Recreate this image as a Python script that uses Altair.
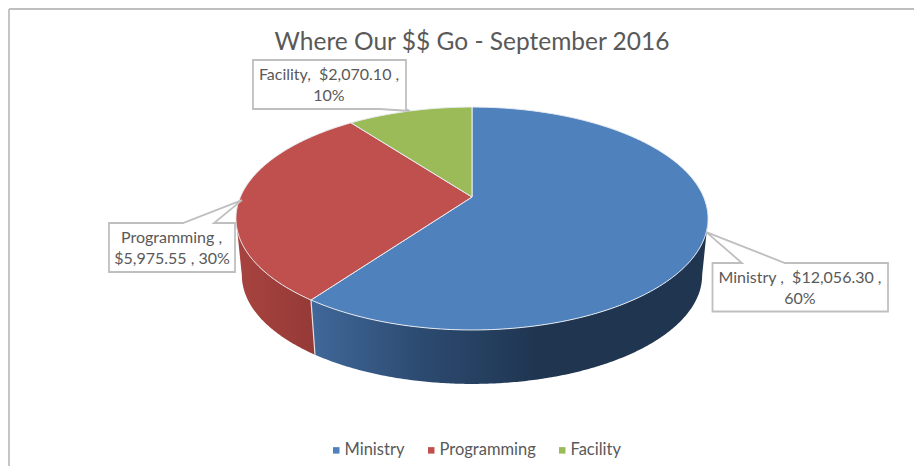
import math
import altair as alt

# ---- chart values ----
categories = ["Ministry", "Programming", "Facility"]
amounts = [12056.30, 5975.55, 2070.10]
percents = [60, 30, 10]
colors = ["#4f81bd", "#c0504d", "#9bbb59"]
title_text = "Where Our $$ Go - September 2016"

# ---- drawing geometry (page pixels) ----
CX, CY = 472, 197
A, B, K = 231.6, 107.3, 0.193     # perspective disc
BOTTOM_SCALE, BOTTOM_SHIFT = 0.975, 57.3
FONT = "Lato"
TEXT = "#595959"
LINE = "#bfbfbf"
NB = "\u00a0"

total = sum(amounts)
edges = [0.0]
for a in amounts:
    edges.append(edges[-1] + a / total * 360)


def top(theta):
    t = math.radians(theta)
    w = 1 + K * math.cos(t)
    return (CX + A * math.sin(t) / w, CY - B * math.cos(t) / w)


def bottom(theta):
    x, y = top(theta)
    return (CX + (x - CX) * BOTTOM_SCALE, CY + (y - CY) * BOTTOM_SCALE + BOTTOM_SHIFT)


def arc(fn, a0, a1):
    n = max(2, int(abs(a1 - a0) * 2))
    return [fn(a0 + (a1 - a0) * i / n) for i in range(n + 1)]


def feature(ring, name):
    ring = [list(p) for p in ring]
    ring.append(ring[0])
    return {"type": "Feature", "properties": {"name": name},
            "geometry": {"type": "Polygon", "coordinates": [ring]}}


def geo(features):
    return alt.InlineData(values={"type": "FeatureCollection", "features": features},
                          format=alt.DataFormat(property="features", type="json"))


proj = dict(type="identity", scale=1, translate=[-8, -8])

# tangent angles of the disc's silhouette
right_tan = 90 + math.degrees(math.asin(K))
left_tan = 270 - math.degrees(math.asin(K))


def side(a0, a1, name):
    return feature(arc(top, a0, a1) + arc(bottom, a1, a0), name)


def grad(stops):
    return {"gradient": "linear", "x1": 0, "x2": 1, "y1": 0, "y2": 0,
            "stops": [{"offset": o, "color": c} for o, c in stops]}


side_blue = alt.Chart(geo([side(right_tan, edges[1], categories[0])])).mark_geoshape(
    fill=grad([(0, "#40689a"), (0.28, "#2c4a70"), (0.58, "#1f3550"), (1, "#1f3550")]),
    strokeWidth=0,
).project(**proj)
side_red = alt.Chart(geo([side(edges[1], left_tan, categories[1])])).mark_geoshape(
    fill=grad([(0, "#a8433f"), (1, "#953a37")]),
    strokeWidth=0,
).project(**proj)
# light seam between the two side faces
seam = alt.Chart(geo([{"type": "Feature", "properties": {"name": "seam"}, "geometry": {
    "type": "LineString", "coordinates": [list(top(edges[1])), list(bottom(edges[1]))]}}])).mark_geoshape(
    filled=False, stroke="#e6e0e0", strokeWidth=1.2).project(**proj)

slices = [feature([(CX, CY)] + arc(top, edges[i], edges[i + 1]), categories[i]) for i in range(3)]
faces = alt.Chart(geo(slices)).mark_geoshape(stroke="#e9edf3", strokeWidth=1).encode(
    color=alt.Color("properties.name:N",
                    scale=alt.Scale(domain=categories, range=colors),
                    sort=categories,
                    legend=alt.Legend(title=None, orient="none", direction="horizontal",
                                      legendX=320, legendY=434, symbolType="square",
                                      symbolSize=42, symbolStrokeWidth=0, labelFont=FONT,
                                      labelFontSize=16.5, labelColor=TEXT, columnPadding=18,
                                      labelOffset=0, padding=0, columns=3))
).project(**proj)

# ---- callouts ----
mid = [(edges[i] + edges[i + 1]) / 2 for i in range(3)]


def callout(box, tip, base, on_bottom):
    x0, y0, x1, y1 = box
    if on_bottom:
        ring = [(x0, y0), (x1, y0), (x1, y1), tip, (base, y1), (x0, y1)]
    else:
        ring = [(x0, y0), (base[0], y0), tip, (base[1], y0), (x1, y0), (x1, y1), (x0, y1)]
    return feature(ring, "callout")


call_features = [
    callout((712.5, 263, 888, 311.5), top(mid[0]), (742, 785), False),
    callout((109, 223, 235, 272), (top(mid[1])[0] + 2, top(mid[1])[1] + 2), (183, 214), False),
    callout((253, 60, 406, 109), top(mid[2]), 380, True),
]
callouts = alt.Chart(geo(call_features)).mark_geoshape(
    fill="#ffffff", stroke=LINE, strokeWidth=1.8).project(**proj)

m = "${:,.2f}".format
label_rows = [
    {"x": 800, "y": 278, "t": f"{categories[0]} ,{NB}{NB}{m(amounts[0])} ,"},
    {"x": 800, "y": 299, "t": f"{percents[0]}%"},
    {"x": 171.5, "y": 238, "t": f"{categories[1]} ,"},
    {"x": 172, "y": 259, "t": f"{m(amounts[1])} , {percents[1]}%"},
    {"x": 329, "y": 75, "t": f"{categories[2]},{NB}{NB}{m(amounts[2])} ,"},
    {"x": 329, "y": 96, "t": f"{percents[2]}%"},
]
labels = [alt.Chart(alt.Data(values=[{"t": r["t"]}])).mark_text(
    font=FONT, fontSize=16, color=TEXT, align="center", baseline="middle").encode(
    text="t:N", x=alt.value(r["x"] - 8), y=alt.value(r["y"] - 8)) for r in label_rows]

frame_left = alt.Chart(alt.Data(values=[{"a": 1}])).mark_rule(color=LINE, strokeWidth=1.8).encode(
    x=alt.value(1), y=alt.value(1), y2=alt.value(458))
frame_top = alt.Chart(alt.Data(values=[{"a": 1}])).mark_rule(color=LINE, strokeWidth=1.8).encode(
    x=alt.value(1), x2=alt.value(906), y=alt.value(1))

chart = alt.layer(frame_left, frame_top, side_blue, side_red, seam, faces, callouts, *labels).properties(
    width=906, height=458, padding=0, autosize=alt.AutoSizeParams(type="none"),
    background="#ffffff",
    title=alt.TitleParams(title_text, font=FONT, fontSize=24.5, fontWeight="normal", color=TEXT,
                          anchor="middle", dx=11, dy=66, offset=0, baseline="alphabetic"),
).configure_view(stroke=None)

chart.save("out.html", embed_options={"renderer": "svg", "actions": False})
